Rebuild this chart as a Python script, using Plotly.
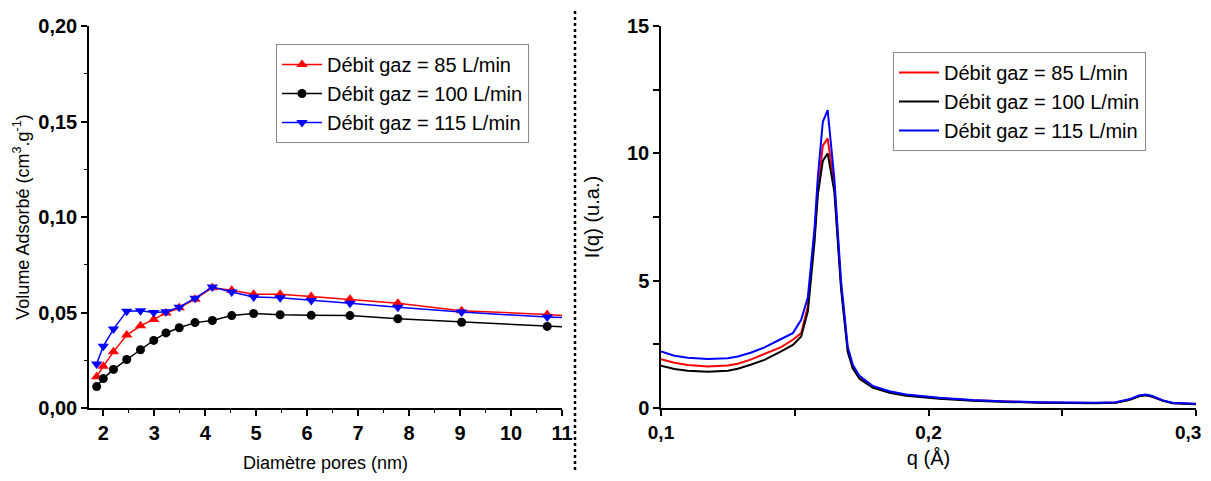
import plotly.graph_objects as go

# ---------- Left panel: pore size distribution ----------
diam_nm = [1.87, 2.00, 2.20, 2.46, 2.73, 2.99, 3.23, 3.49, 3.80, 4.14, 4.52,
           4.95, 5.47, 6.08, 6.84, 7.78, 9.03, 10.71, 11.40]
vol_85 = [0.0164, 0.0218, 0.0294, 0.0382, 0.0430, 0.0464, 0.0497, 0.0525, 0.0570,
          0.0630, 0.0616, 0.0596, 0.0596, 0.0584, 0.0570, 0.0549, 0.0509, 0.0490, 0.0475]
vol_100 = [0.0112, 0.0154, 0.0202, 0.0254, 0.0305, 0.0354, 0.0393, 0.0420, 0.0447,
           0.0458, 0.0484, 0.0495, 0.0488, 0.0485, 0.0484, 0.0467, 0.0449, 0.0427, 0.0420]
vol_115 = [0.0231, 0.0323, 0.0413, 0.0507, 0.0509, 0.0500, 0.0504, 0.0528, 0.0575,
           0.0633, 0.0607, 0.0581, 0.0577, 0.0563, 0.0549, 0.0528, 0.0502, 0.0476, 0.0470]

# ---------- Right panel: SAXS curves ----------
q = [0.100, 0.105, 0.110, 0.1175, 0.125, 0.1287, 0.1335, 0.1387, 0.1449, 0.1493,
     0.1524, 0.1549, 0.1574, 0.1586, 0.1605, 0.1623, 0.1648, 0.1673, 0.1698, 0.1717,
     0.1742, 0.1791, 0.1854, 0.1916, 0.204, 0.2165, 0.229, 0.2414, 0.2625, 0.270,
     0.275, 0.2787, 0.2812, 0.2837, 0.2874, 0.2912, 0.300]
i_85 = [1.92, 1.78, 1.69, 1.63, 1.67, 1.74, 1.90, 2.12, 2.39, 2.68,
        2.94, 4.00, 6.80, 8.50, 10.30, 10.59, 8.70, 4.80, 2.30, 1.60,
        1.20, 0.84, 0.64, 0.51, 0.38, 0.30, 0.25, 0.22, 0.20, 0.22,
        0.32, 0.47, 0.51, 0.45, 0.30, 0.20, 0.16]
i_100 = [1.66, 1.53, 1.46, 1.42, 1.46, 1.54, 1.70, 1.89, 2.22, 2.48,
         2.81, 3.80, 6.53, 8.36, 9.70, 10.00, 8.50, 4.70, 2.20, 1.55,
         1.15, 0.80, 0.60, 0.48, 0.36, 0.28, 0.24, 0.21, 0.19, 0.21,
         0.31, 0.46, 0.50, 0.44, 0.29, 0.19, 0.15]
i_115 = [2.22, 2.05, 1.97, 1.92, 1.95, 2.02, 2.17, 2.38, 2.71, 2.94,
         3.46, 4.35, 7.06, 9.03, 11.24, 11.70, 9.00, 5.00, 2.40, 1.70,
         1.26, 0.87, 0.66, 0.53, 0.40, 0.31, 0.26, 0.23, 0.21, 0.23,
         0.34, 0.49, 0.53, 0.47, 0.31, 0.21, 0.17]

q_ticks = [0.1, 0.2, 0.3]
q_ticktext = ["0,1", "0,2", "0,3\u00a0\u00a0\u00a0"]

labels = ["Débit gaz = 85 L/min", "Débit gaz = 100 L/min", "Débit gaz = 115 L/min"]
colors = ["#ff0000", "#000000", "#0000ff"]
symbols = ["triangle-up", "circle", "triangle-down"]

FONT = "Arial, 'Liberation Sans', sans-serif"

fig = go.Figure()
for vals, lab, col, sym in zip([vol_85, vol_100, vol_115], labels, colors, symbols):
    fig.add_trace(go.Scatter(
        x=diam_nm, y=vals, name=lab, mode="lines+markers",
        line=dict(color=col, width=1.5),
        marker=dict(symbol=sym, size=10 if sym != "circle" else 9, color=col),
        xaxis="x", yaxis="y", legend="legend"))

for vals, lab, col in zip([i_85, i_100, i_115], labels, colors):
    fig.add_trace(go.Scatter(
        x=q, y=vals, name=lab, mode="lines",
        line=dict(color=col, width=2),
        xaxis="x2", yaxis="y2", legend="legend2"))

OFF = 8  # page body margin
W, H = 1211 - OFF, 481 - 2 * OFF
top, bottom = 26, 408  # target screen pixels of plot area
def px2paper_x(px):
    return (px - OFF) / W
def px2paper_y(py):
    return (bottom - py) / (bottom - top)

tickfont = dict(family=FONT, size=20, color="black", weight="bold")
axis_common = dict(showline=True, linecolor="black", linewidth=1.5, ticks="outside",
                   ticklen=6, tickwidth=1.5, tickcolor="black", showgrid=False,
                   zeroline=False, automargin=False, mirror=False)

fig.update_layout(
    width=W, height=H,
    margin=dict(l=0, r=0, t=top - OFF, b=H - (bottom - OFF)),
    plot_bgcolor="white", paper_bgcolor="white",
    separators=", ",
    font=dict(family=FONT, color="black"),
    xaxis=dict(domain=[px2paper_x(89), px2paper_x(562)], range=[1.72, 11],
               tickmode="array", tickvals=list(range(2, 12)), tickfont=tickfont,
               minor=dict(ticks="outside", ticklen=3, tickwidth=1.2, tickcolor="black", dtick=0.5, tick0=0),
               title=dict(text="Diamètre pores (nm)", font=dict(size=18), standoff=14),
               anchor="y", **axis_common),
    yaxis=dict(domain=[0, 1], range=[0, 0.2], tickvals=[0, 0.05, 0.10, 0.15, 0.20],
               tickformat=".2f", tickfont=tickfont,
               minor=dict(ticks="outside", ticklen=3, tickwidth=1.2, tickcolor="black", dtick=0.025, tick0=0),
               title=dict(text="Volume Adsorbé (cm<sup>3</sup>.g<sup>-1</sup>)", font=dict(size=18), standoff=4),
               anchor="x", **axis_common),
    xaxis2=dict(domain=[px2paper_x(661), px2paper_x(1196)], range=[0.1, 0.3],
                tickmode="array", tickvals=q_ticks, ticktext=q_ticktext, ticklabeloverflow="allow",
                tickfont=dict(family=FONT, size=19, color="black", weight="bold"),
                minor=dict(ticks="outside", ticklen=6, tickwidth=1.5, tickcolor="black", dtick=0.05, tick0=0),
                title=dict(text="q (Å)", font=dict(size=20), standoff=9),
                anchor="y2", **axis_common),
    yaxis2=dict(domain=[0, 1], range=[0, 15], tickvals=[0, 5, 10, 15], tickfont=tickfont,
                minor=dict(ticks="outside", ticklen=6, tickwidth=1.5, tickcolor="black", dtick=2.5, tick0=0),
                title=dict(text="I(q) (u.a.)", font=dict(size=20), standoff=22),
                anchor="x2", **axis_common),
    legend=dict(x=px2paper_x(276), y=px2paper_y(44), xanchor="left", yanchor="top",
                bordercolor="#888888", borderwidth=1, bgcolor="white",
                font=dict(family=FONT, size=20, color="black"),
                tracegroupgap=0, itemwidth=40),
    legend2=dict(x=px2paper_x(893), y=px2paper_y(52), xanchor="left", yanchor="top",
                 bordercolor="#888888", borderwidth=1, bgcolor="white",
                 font=dict(family=FONT, size=20, color="black"),
                 tracegroupgap=0, itemwidth=40),
    showlegend=True,
)

fig.add_shape(type="line", xref="paper", yref="paper",
              x0=px2paper_x(575), x1=px2paper_x(575),
              y0=px2paper_y(470), y1=px2paper_y(10),
              line=dict(color="black", width=2.5, dash="dot"))

fig.write_html("out.html")
